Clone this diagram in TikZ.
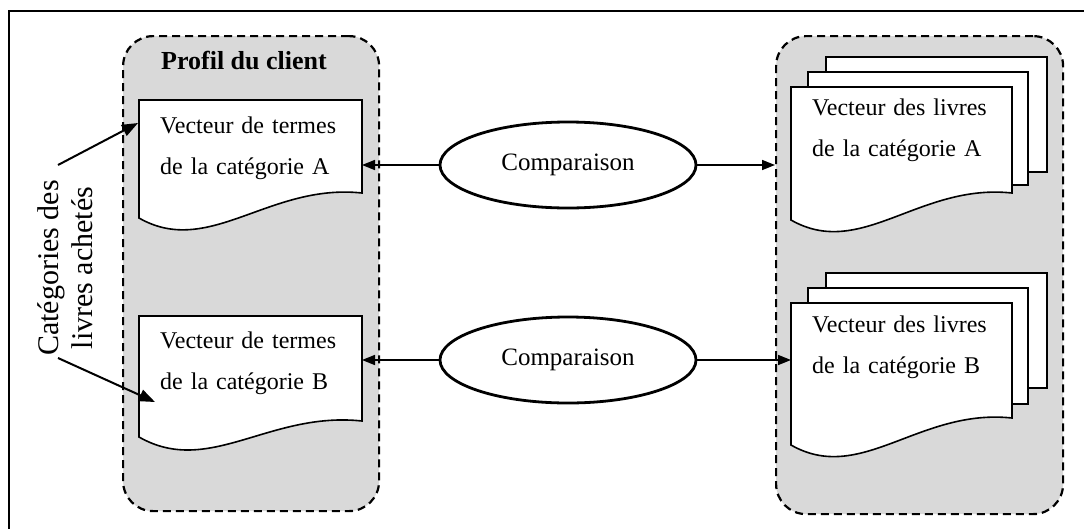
\documentclass[tikz,border=0pt]{standalone}
\usepackage{fontspec}
\setmainfont{Liberation Serif}
\usetikzlibrary{shapes.geometric,calc,arrows.meta}
\definecolor{groupgray}{RGB}{217,217,217}

% document shape: flat top, wavy bottom (#1 node, #2 right-edge height, #3 left-edge height)
\newcommand\wavedoc[3]{%
  \draw[docline] (#1.north west) -- (#1.north east) -- ($(#1.north east)+(0,#2)$)
    .. controls ($(#1.north east)+(-93,#2-10)$) and ($(#1.north west)+(70,#3+40)$)
    .. ($(#1.north west)+(0,#3)$) -- cycle;}

\begin{document}
\begin{tikzpicture}[x=1pt,y=-1pt,
  frame/.style={line width=1.8pt},
  group/.style={draw, dash pattern=on 8pt off 5pt, line width=2.2pt, fill=groupgray,
    rounded corners=30pt, inner sep=0pt, anchor=north west},
  docline/.style={line width=1.6pt, fill=white},
  docbox/.style={inner sep=0pt, outer sep=0pt, anchor=north west},
  doctext/.style={anchor=base west, inner sep=0pt, text width=200pt, align=left,
    font=\fontsize{24}{41}\selectfont},
  cmp/.style={ellipse, draw, line width=2.8pt, fill=white, minimum width=256pt,
    minimum height=86pt, inner sep=0pt, font=\fontsize{25}{30}\selectfont},
  link/.style={line width=1.6pt, -{Triangle[length=13pt,width=10pt]}},
  pointer/.style={line width=2pt, -{Triangle[length=16pt,width=12pt]}},
]
\useasboundingbox (0,0) rectangle (1084,528);
\clip (0,0) rectangle (1084,528);

% outer frame
\draw[frame] (9,11) rectangle (1100,545);

% groups
\node[group, minimum width=256pt, minimum height=475pt] (profile) at (122,35) {};
\node[group, minimum width=287pt, minimum height=478pt] (books) at (775,35) {};
\node[anchor=base, font=\bfseries\fontsize{26}{30}\selectfont] (title) at (244,69) {Profil du client};

% client term vectors
\node[docbox, minimum width=223pt, minimum height=130pt] (docA) at (139,100) {};
\wavedoc{docA}{93}{118}
\node[doctext] (docAtext) at ($(docA.north west)+(21,33)$) {Vecteur de termes\\de la catégorie A};

\node[docbox, minimum width=223pt, minimum height=130pt] (docB) at (139,316) {};
\wavedoc{docB}{105}{121}
\node[doctext] (docBtext) at ($(docB.north west)+(21,32)$) {Vecteur de termes\\de la catégorie B};

% book vectors (stacked sheets)
\node[docbox, minimum width=221pt, minimum height=140pt] (booksA) at (791,87) {};
\draw[docline] ($(booksA.north west)+(35,-30)$) rectangle ++(221,115);
\draw[docline] ($(booksA.north west)+(17,-15)$) rectangle ++(220,113);
\wavedoc{booksA}{106}{133}
\node[doctext] (booksAtext) at ($(booksA.north west)+(21,28)$) {Vecteur des livres\\de la catégorie A};

\node[docbox, minimum width=221pt, minimum height=150pt] (booksB) at (791,303) {};
\draw[docline] ($(booksB.north west)+(35,-30)$) rectangle ++(221,115);
\draw[docline] ($(booksB.north west)+(17,-15)$) rectangle ++(220,116);
\wavedoc{booksB}{115}{142}
\node[doctext] (booksBtext) at ($(booksB.north west)+(21,29)$) {Vecteur des livres\\de la catégorie B};

% comparisons
\node[cmp] (cmpA) at (568,165) {Comparaison};
\node[cmp] (cmpB) at (568,360) {Comparaison};
\draw[link] (cmpA.west) -- (cmpA.west -| docA.east);
\draw[link] (cmpA.east) -- (cmpA.east -| books.west);
\draw[link] (cmpB.west) -- (cmpB.west -| docB.east);
\draw[link] (cmpB.east) -- (cmpB.east -| booksB.west);

% side label
\node[rotate=90, align=center, font=\fontsize{30}{34}\selectfont] (cat) at (65,268)
  {Catégories des\\livres achetés};
\coordinate (catA) at (58,165);
\coordinate (catB) at (58,358);
\coordinate (hitA) at ($(docA.north west)+(-1,23)$);
\coordinate (hitB) at ($(docB.north west)+(16,86)$);
\draw[pointer] (catA) -- (hitA);
\draw[pointer] (catB) -- (hitB);
\end{tikzpicture}
\end{document}
